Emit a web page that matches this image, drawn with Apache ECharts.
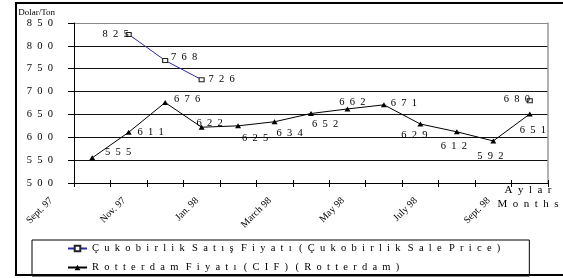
<!DOCTYPE html>
<html>
<head>
<meta charset="utf-8">
<script src="https://cdn.jsdelivr.net/npm/echarts@6/dist/echarts.min.js"></script>
<style>
html,body{margin:0;padding:0;background:#fff;}
#chart_1{width:563px;height:278px;}
</style>
</head>
<body>
<div id="chart_1"></div>
<script>
// aylar / months
var months = ['Sept. 97','Oct. 97','Nov. 97','Dec. 97','Jan. 98','Feb. 98','March 98','April 98','May 98','June 98','July 98','Aug. 98','Sept. 98'];
var seriesNames = ['Çukobirlik Satış Fiyatı (Çukobirlik Sale Price)', 'Rotterdam Fiyatı (CIF) (Rotterdam)'];
var cukobirlik = [null, 825, 768, 726, null, null, null, null, null, null, null, null, 680];
var rotterdam = [555, 611, 676, 622, 625, 634, 652, 662, 671, 629, 612, 592, 651];
var yMin = 500, yMax = 850, yStep = 50;

// label offsets (px) from the point
var cukoOffset = [null,[-13,0],[19,-3],[20,0],null,null,null,null,null,null,null,null,[-13,-1]];
var rotOffset = [[26,-6],[22,0],[22,-3],[8,-4],[17,12],[15,12],[14,11],[5,-7],[20,-2],[-6,11],[-3,14],[-3,15],[3,16]];

var serif = "'Liberation Serif','Times New Roman',serif";
function spaced(s){
	return String(s).split(' ').map(function(w){ return w.split('').join('\u2002'); }).join('\u2002\u2009');
}
function buildData(vals, offs){
	return vals.map(function(v, i){
		if(v === null) return '-';
		return {value: v, label: {offset: offs[i]}};
	});
}

var myChart1 = echarts.init(document.getElementById('chart_1'));
var option1 = {
	animation: false,
	backgroundColor: '#fff',
	grid: {left: 74, right: 15, top: 23, bottom: 95},
	legend: {
		orient: 'vertical',
		left: 32,
		top: 240,
		padding: [3, 29, 3, 35],
		itemGap: 8,
		itemWidth: 19,
		itemHeight: 7,
		borderColor: '#000',
		borderWidth: 1,
		borderRadius: 0,
		data: seriesNames,
		formatter: function(name){ return spaced(name); },
		textStyle: {fontFamily: serif, fontSize: 10.5, color: '#000'}
	},
	xAxis: [
		{
			type: 'category',
			data: months,
			boundaryGap: true,
			axisLine: {lineStyle: {color: '#000', width: 1}},
			axisTick: {show: true, length: 4, interval: 0, lineStyle: {color: '#000'}},
			axisLabel: {
				interval: 1,
				rotate: 45,
				margin: -25,
				padding: [0, 58, 0, 0],
				fontFamily: serif,
				fontSize: 10,
				color: '#000'
			},
			name: spaced('Aylar') + '\n' + spaced('Months'),
			nameLocation: 'end',
			nameGap: -20,
			nameTextStyle: {
				fontFamily: serif, fontSize: 11, color: '#000',
				align: 'center', verticalAlign: 'top', lineHeight: 14,
				padding: [0, 0, 0, 0]
			}
		},
		{
			type: 'category',
			data: months,
			boundaryGap: true,
			position: 'bottom',
			axisLine: {show: false},
			axisTick: {show: true, inside: true, length: 3, interval: 0, lineStyle: {color: '#000'}},
			axisLabel: {show: false},
			splitLine: {show: false}
		}
	],
	yAxis: [
		{
			type: 'value',
			min: yMin,
			max: yMax,
			interval: yStep,
			axisLine: {show: true, lineStyle: {color: '#000'}},
			axisTick: {show: true, length: 6, lineStyle: {color: '#000'}},
			splitLine: {show: true, lineStyle: {color: ['#000','#111','#111','#111','#111','#111','#111','#888'], width: 1}},
			axisLabel: {
				margin: 21,
				fontFamily: serif,
				fontSize: 10.5,
				color: '#000',
				formatter: function(v){ return spaced(v); }
			},
			name: 'Dolar/Ton',
			nameLocation: 'end',
			nameGap: 9,
			nameTextStyle: {fontFamily: serif, fontSize: 9, color: '#000', align: 'right', verticalAlign: 'middle', padding: [0, 19, 0, 0]}
		},
		{
			type: 'value',
			min: yMin,
			max: yMax,
			interval: yStep,
			position: 'right',
			axisLine: {show: true, lineStyle: {color: '#999', width: 1.5}},
			axisTick: {show: false},
			axisLabel: {show: false},
			splitLine: {show: false}
		}
	],
	graphic: [
		{
			type: 'rect',
			shape: {x: 16, y: 3, width: 600, height: 272},
			style: {fill: 'none', stroke: '#000', lineWidth: 2},
			silent: true
		}
	],
	series: [
		{
			name: seriesNames[0],
			type: 'line',
			data: buildData(cukobirlik, cukoOffset),
			symbol: 'rect',
			symbolSize: [5, 4],
			showAllSymbol: true,
			connectNulls: false,
			lineStyle: {color: '#2a2aa8', width: 1},
			itemStyle: {color: '#fff', borderColor: '#222', borderWidth: 1},
			label: {
				show: true,
				position: 'inside',
				fontFamily: serif,
				fontSize: 10.5,
				color: '#000',
				formatter: function(p){ return spaced(p.value); }
			},
			z: 3
		},
		{
			name: seriesNames[1],
			type: 'line',
			data: buildData(rotterdam, rotOffset),
			symbol: 'triangle',
			symbolSize: [6, 5],
			showAllSymbol: true,
			lineStyle: {color: '#000', width: 1},
			itemStyle: {color: '#000'},
			label: {
				show: true,
				position: 'inside',
				fontFamily: serif,
				fontSize: 10.5,
				color: '#000',
				formatter: function(p){ return spaced(p.value); }
			},
			z: 2
		}
	]
};
myChart1.setOption(option1);
</script>
</body>
</html>
